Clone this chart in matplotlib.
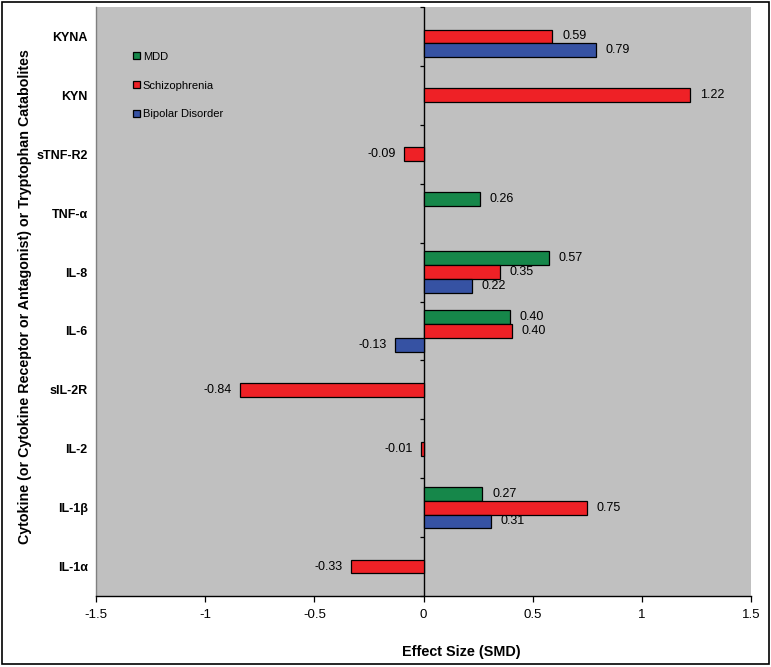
import numpy as np
import matplotlib
matplotlib.use("Agg")
import matplotlib.pyplot as plt
from matplotlib.patches import Rectangle

plt.rcParams['font.family'] = ['Liberation Sans', 'DejaVu Sans']

categories = ["KYNA", "KYN", "sTNF-R2", "TNF-α", "IL-8", "IL-6", "sIL-2R", "IL-2", "IL-1β", "IL-1α"]
mdd = [np.nan, np.nan, np.nan, 0.26, 0.575, 0.395, np.nan, np.nan, 0.27, np.nan]
schizophrenia = [0.59, 1.22, -0.09, np.nan, 0.35, 0.404, -0.84, -0.01, 0.75, -0.33]
bipolar = [0.79, np.nan, np.nan, np.nan, 0.22, -0.13, np.nan, np.nan, 0.31, np.nan]
series_names = ["MDD", "Schizophrenia", "Bipolar Disorder"]
colors = ["#16874a", "#ee2126", "#3652a3"]
xticks = [-1.5, -1, -0.5, 0, 0.5, 1, 1.5]
xticklabels = ["-1.5", "-1", "-0.5", "0", "0.5", "1", "1.5"]

W, H = 771, 667
fig = plt.figure(figsize=(W / 100, H / 100), dpi=100)
ax = fig.add_axes([96 / W, 1 - 596 / H, 655 / W, 589 / H])
ax.set_facecolor("#c0c0c0")

n = len(categories)
ypos = np.arange(n)[::-1].astype(float)
offsets = [0.235, 0.0, -0.235]
h = 0.235
handles = []
for vals, off, c, name in zip([mdd, schizophrenia, bipolar], offsets, colors, series_names):
    v = np.array(vals, dtype=float)
    mask = ~np.isnan(v)
    b = ax.barh(ypos[mask] + off, v[mask], height=h, color=c, edgecolor="black", linewidth=0.9, label=name, zorder=3)
    handles.append(b)
    for y, val in zip(ypos[mask] + off, v[mask]):
        if val >= 0:
            ax.annotate(f"{val:.2f}", (val, y), xytext=(7, 0), textcoords="offset points",
                        ha="left", va="center", fontsize=9, zorder=4)
        else:
            ax.annotate(f"{val:.2f}", (val, y), xytext=(-6, 0), textcoords="offset points",
                        ha="right", va="center", fontsize=9, zorder=4)

ax.set_xlim(-1.5, 1.5)
ax.set_ylim(-0.5, n - 0.5)
ax.axvline(0, color="black", linewidth=1.0, zorder=2)
# category boundary ticks on the zero axis
bounds = np.arange(n + 1) - 0.5
ax.plot(np.zeros_like(bounds), bounds, linestyle="none", marker=0, markersize=3,
        color="black", markeredgewidth=0.9, zorder=2, clip_on=False)

ax.set_yticks(ypos)
ax.set_yticklabels(categories, fontsize=9, fontweight="bold")
ax.tick_params(axis="y", length=0, pad=6)
ax.set_xticks(xticks)
ax.set_xticklabels(xticklabels, fontsize=9.5)
ax.tick_params(axis="x", direction="out", length=4, width=0.9, pad=5)

for s in ["top", "right"]:
    ax.spines[s].set_visible(False)
ax.spines["left"].set_color("#808080")
ax.spines["left"].set_linewidth(1.0)
ax.spines["bottom"].set_linewidth(1.0)

ax.set_xlabel("Effect Size (SMD)", fontsize=10.4, fontweight="bold")
ax.xaxis.set_label_coords((461 - 96) / 655, -(652 - 596) / 589)
ax.xaxis.label.set_va("center")
ax.set_ylabel("Cytokine (or Cytokine Receptor or Antagonist) or Tryptophan Catabolites",
              fontsize=10.3, fontweight="bold")
ax.yaxis.set_label_coords(-(96 - 25) / 655, (596 - 297) / 589)
ax.yaxis.label.set_va("center")

leg = ax.legend(handles=handles, loc="upper left", bbox_to_anchor=(0.045, 0.937), frameon=False,
                fontsize=8, handlelength=0.6, handleheight=0.6, handletextpad=0.25,
                labelspacing=1.68, borderpad=0.2)

fig.patches.append(Rectangle((2 / W, 3 / H), 767 / W, 662 / H, transform=fig.transFigure,
                             fill=False, edgecolor="black", linewidth=1.2))

fig.savefig("out.png", dpi=100)
